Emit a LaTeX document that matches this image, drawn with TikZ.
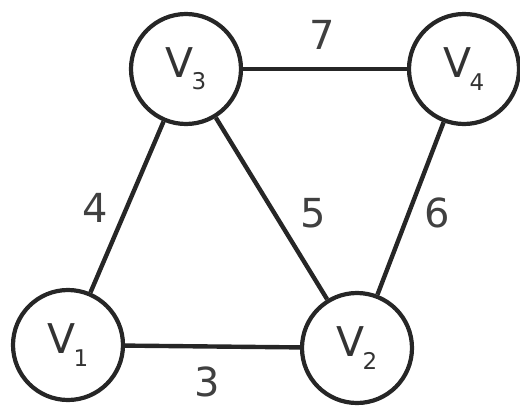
\documentclass[tikz,border=0pt]{standalone}
\usepackage{fontspec}
\setmainfont{DejaVu Sans}
\usepackage{tikz}
\usetikzlibrary{calc}

\newcommand{\vname}[1]{V\kern-0.05em\raisebox{-0.3em}{\fontsize{23}{23}\selectfont #1}}

\begin{document}
\begin{tikzpicture}[x=1pt, y=-1pt,
    vtx/.style={circle, draw=black!85, line width=4.2pt, minimum size=110pt, inner sep=0pt,
      text=black!80, font=\fontsize{41}{42}\selectfont},
    wedge/.style={draw=black!85, line width=4.4pt},
    wlabel/.style={text=black!75, font=\fontsize{40}{42}\selectfont}]
  \useasboundingbox (0,0) rectangle (520,410);

  \node[vtx] (v1) at (68,345) {\vname{1}};
  \node[vtx] (v2) at (357,348) {\vname{2}};
  \node[vtx] (v3) at (186,69) {\vname{3}};
  \node[vtx] (v4) at (464,69) {\vname{4}};

  \draw[wedge] (v1) -- (v2);
  \draw[wedge] (v1) -- (v3);
  \draw[wedge] (v3) -- (v2);
  \draw[wedge] (v3) -- (v4);
  \draw[wedge] (v4) -- (v2);

  \node[wlabel] (w3) at (207,382) {3};
  \node[wlabel] (w4) at (95,208) {4};
  \node[wlabel] (w5) at (313,213) {5};
  \node[wlabel] (w6) at (437,213) {6};
  \node[wlabel] (w7) at (322,35) {7};
\end{tikzpicture}
\end{document}
